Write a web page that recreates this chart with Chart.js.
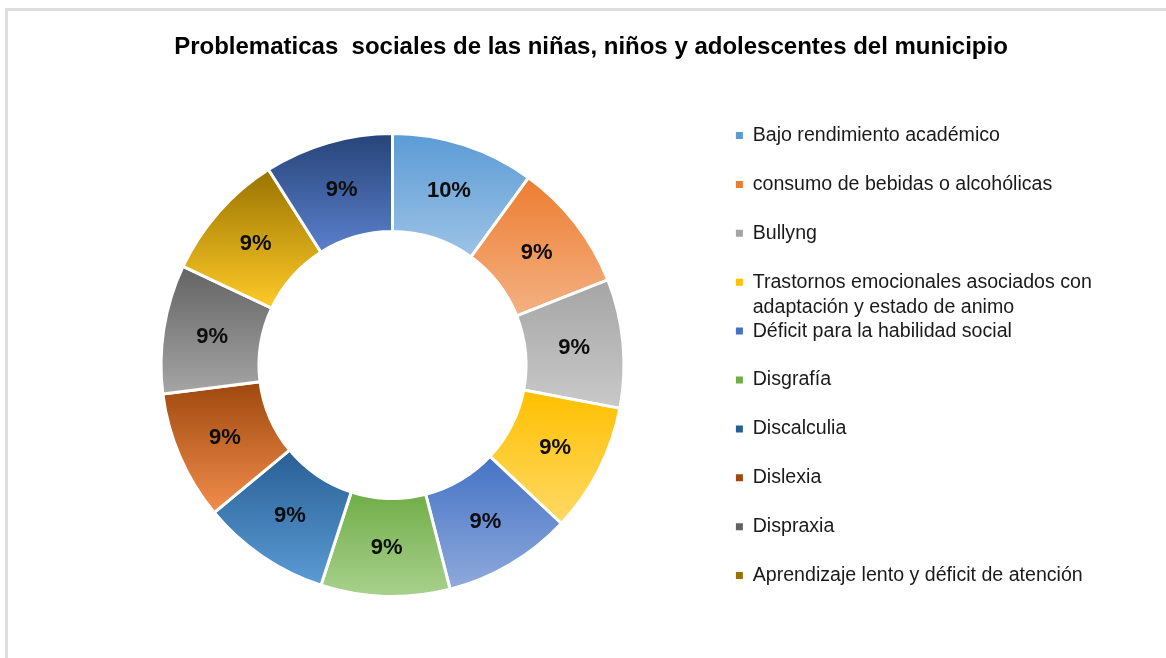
<!DOCTYPE html>
<html>
<head>
<meta charset="utf-8">
<title>Problematicas sociales</title>
<script src="https://cdn.jsdelivr.net/npm/chart.js@4.4.1/dist/chart.umd.min.js"></script>
<style>
  html, body { margin: 0; padding: 0; background: #fff; }
  #frame { position: absolute; left: 5px; top: 8px; right: 0; bottom: 0;
           border-top: 3px solid #dedede; border-left: 3px solid #dedede; }
  #wrap { position: absolute; left: 0; top: 0; width: 1166px; height: 658px; }
</style>
</head>
<body>
<div id="frame"></div>
<div id="wrap"><canvas id="chart"></canvas></div>
<script>
// data
const categories = [
  'Bajo rendimiento académico',
  'consumo de bebidas o alcohólicas',
  'Bullyng',
  'Trastornos emocionales asociados con adaptación y estado de animo',
  'Déficit para la habilidad social',
  'Disgrafía',
  'Discalculia',
  'Dislexia',
  'Dispraxia',
  'Aprendizaje lento y déficit de atención',
  ''
];
const values = [10, 9, 9, 9, 9, 9, 9, 9, 9, 9, 9];

// gradient colours of each slice, top -> bottom
const topColors = ['#5b9bd5', '#ed7d31', '#a5a5a5', '#ffc000', '#4472c4', '#70ad47',
                   '#285f94', '#9e480e', '#636363', '#997300', '#264478'];
const bottomColors = ['#9dc3e6', '#f4b183', '#c9c9c9', '#ffd966', '#8faadc', '#a9d18e',
                      '#5b9bd5', '#f28d4c', '#a5a5a5', '#ffca28', '#5b80cc'];

const LEGEND_FONT = { family: "'Liberation Sans', Arial, sans-serif", size: 19.6 };
const LEGEND_WRAP = 350;
const LEGEND_LINE = 25;

function wrapText(ctx, text, maxWidth) {
  const words = text.split(' ');
  const lines = [];
  let line = '';
  words.forEach(w => {
    const test = line ? line + ' ' + w : w;
    if (line && ctx.measureText(test).width > maxWidth) {
      lines.push(line);
      line = w;
    } else {
      line = test;
    }
  });
  lines.push(line);
  return lines;
}

// each slice gets its own top-to-bottom gradient
const sliceGradient = {
  id: 'sliceGradient',
  beforeDatasetsDraw(chart) {
    const ctx = chart.ctx;
    chart.getDatasetMeta(0).data.forEach((arc, i) => {
      const p = arc.getProps(['x', 'y', 'startAngle', 'endAngle', 'innerRadius', 'outerRadius'], true);
      let top = Infinity, bottom = -Infinity;
      for (let k = 0; k <= 40; k++) {
        const a = p.startAngle + (p.endAngle - p.startAngle) * k / 40;
        [p.innerRadius, p.outerRadius].forEach(r => {
          const y = p.y + Math.sin(a) * r;
          top = Math.min(top, y);
          bottom = Math.max(bottom, y);
        });
      }
      const g = ctx.createLinearGradient(0, top, 0, bottom);
      g.addColorStop(0, topColors[i]);
      g.addColorStop(1, bottomColors[i]);
      arc.options = Object.assign({}, arc.options, { backgroundColor: g });
    });
  }
};

// percentage labels in the middle of each slice
const sliceLabels = {
  id: 'sliceLabels',
  afterDatasetsDraw(chart) {
    const ctx = chart.ctx;
    const total = values.reduce((a, b) => a + b, 0);
    ctx.save();
    ctx.font = "bold 22px 'Liberation Sans', Arial, sans-serif";
    ctx.fillStyle = '#0d0d0d';
    ctx.textAlign = 'center';
    ctx.textBaseline = 'middle';
    chart.getDatasetMeta(0).data.forEach((arc, i) => {
      const pos = arc.tooltipPosition(true);
      ctx.fillText(Math.round(values[i] / total * 100) + '%', pos.x, pos.y);
    });
    ctx.restore();
  }
};

// fixed legend width + second line of long legend entries
const legendWrap = {
  id: 'legendWrap',
  beforeLayout(chart) {
    const legend = chart.legend;
    if (legend && !legend._fixedWidth) {
      const fit = legend.fit;
      legend.fit = function () {
        fit.call(this);
        this.width = 397;
      };
      legend._fixedWidth = true;
    }
  },
  afterDraw(chart) {
    const legend = chart.legend;
    const ctx = chart.ctx;
    const opts = legend.options.labels;
    ctx.save();
    ctx.font = LEGEND_FONT.size + 'px ' + LEGEND_FONT.family;
    ctx.fillStyle = opts.color;
    ctx.textAlign = 'left';
    ctx.textBaseline = 'middle';
    legend.legendItems.forEach((item, i) => {
      if (!item.moreLines || !item.moreLines.length) return;
      const box = legend.legendHitBoxes[i];
      const x = legend.left + opts.padding + opts.boxWidth + LEGEND_FONT.size / 2;
      item.moreLines.forEach((line, k) => {
        ctx.fillText(line, x, box.top + box.height / 2 + LEGEND_LINE * (k + 1));
      });
    });
    ctx.restore();
  }
};

new Chart(document.getElementById('chart'), {
  type: 'doughnut',
  data: {
    labels: categories,
    datasets: [{
      data: values,
      backgroundColor: topColors,
      borderColor: '#ffffff',
      borderWidth: 3,
      radius: 231.5,
      cutout: '57.7%'
    }]
  },
  options: {
    responsive: true,
    maintainAspectRatio: false,
    animation: false,
    layout: { padding: { left: 78.4, right: 62.4, top: 0, bottom: 24.4 } },
    plugins: {
      title: {
        display: true,
        text: 'Problematicas  sociales de las niñas, niños y adolescentes del municipio',
        color: '#000000',
        font: { family: "'Liberation Sans', Arial, sans-serif", size: 24, weight: 'bold' },
        padding: { top: 33, bottom: 34.6 }
      },
      legend: {
        position: 'right',
        align: 'start',
        fullSize: false,
        labels: {
          color: '#1a1a1a',
          font: LEGEND_FONT,
          boxWidth: 7,
          boxHeight: 7,
          padding: 29.3,
          filter: item => item.text !== '',
          generateLabels(chart) {
            const items = Chart.overrides.doughnut.plugins.legend.labels.generateLabels(chart);
            const ctx = chart.ctx;
            ctx.save();
            ctx.font = LEGEND_FONT.size + 'px ' + LEGEND_FONT.family;
            items.forEach(item => {
              const lines = wrapText(ctx, item.text, LEGEND_WRAP);
              item.text = lines[0];
              item.moreLines = lines.slice(1);
              item.lineWidth = 0;
              item.strokeStyle = item.fillStyle;
            });
            ctx.restore();
            return items;
          }
        }
      },
      tooltip: { enabled: false }
    }
  },
  plugins: [sliceGradient, sliceLabels, legendWrap]
});
</script>
</body>
</html>
